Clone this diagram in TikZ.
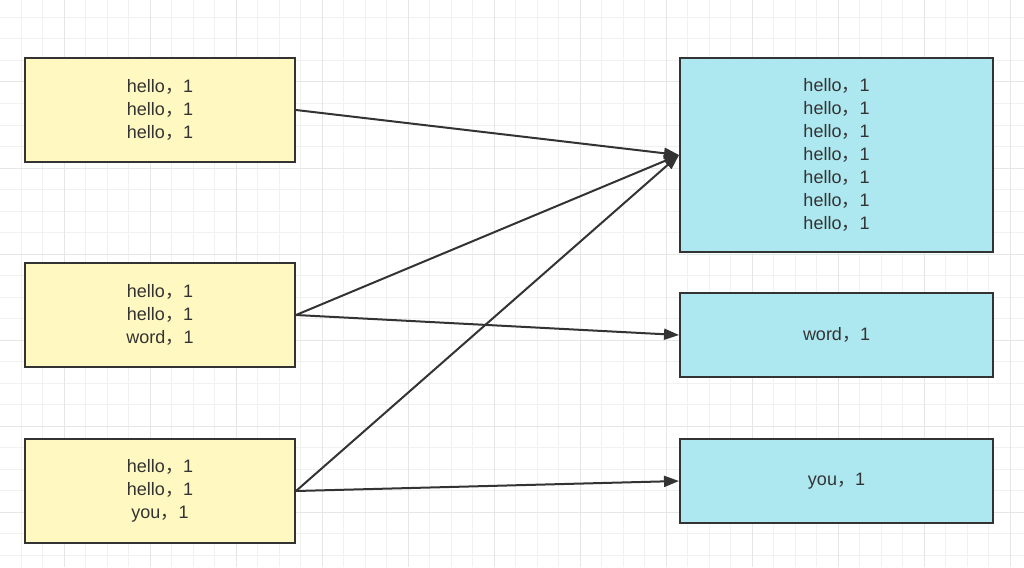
\documentclass[tikz,border=0pt]{standalone}
\usepackage{fontspec}
\setmainfont{Liberation Sans}
\newfontfamily\cjkfont{Noto Sans CJK SC}
\newcommand{\fwc}{{\cjkfont ，}}
\usetikzlibrary{arrows.meta}
\definecolor{gridminor}{HTML}{F1F1F1}
\definecolor{gridmajor}{HTML}{E6E6E6}
\definecolor{boxyellow}{HTML}{FFF8C0}
\definecolor{boxblue}{HTML}{ADE7EF}
\definecolor{ink}{HTML}{333333}
\tikzset{
  box/.style={draw=ink, line width=2pt, align=center, text=ink, inner sep=0pt,
    font=\fontsize{18}{23}\selectfont},
  leftbox/.style={box, fill=boxyellow, minimum width=270pt, minimum height=104pt},
  rightbox/.style={box, fill=boxblue, minimum width=313pt},
  link/.style={draw=ink, line width=2pt, -{Triangle[length=15pt,width=11pt]}}
}
\begin{document}
\begin{tikzpicture}[x=1pt,y=-1pt]
\useasboundingbox (0,0) rectangle (1024,567);
\fill[white] (0,0) rectangle (1024,567);
\foreach \i in {-3,...,45} {
  \draw[gridminor, line width=1pt] ({64+21.5*\i},0) -- ({64+21.5*\i},567);
}
\foreach \j in {-4,...,23} {
  \draw[gridminor, line width=1pt] (0,{82+21.5*\j}) -- (1024,{82+21.5*\j});
}
\foreach \i in {-1,...,11} {
  \draw[gridmajor, line width=1pt] ({64+86*\i},0) -- ({64+86*\i},567);
}
\foreach \j in {-1,...,6} {
  \draw[gridmajor, line width=1pt] (0,{82+86*\j}) -- (1024,{82+86*\j});
}
\node[leftbox] (L1) at (160,110) {hello\fwc 1\\hello\fwc 1\\hello\fwc 1};
\node[leftbox] (L2) at (160,315) {hello\fwc 1\\hello\fwc 1\\word\fwc 1};
\node[leftbox] (L3) at (160,491) {hello\fwc 1\\hello\fwc 1\\you\fwc 1};
\node[rightbox, minimum height=194pt] (R1) at (836.5,155) {hello\fwc 1\\hello\fwc 1\\hello\fwc 1\\hello\fwc 1\\hello\fwc 1\\hello\fwc 1\\hello\fwc 1};
\node[rightbox, minimum height=84pt] (R2) at (836.5,335) {word\fwc 1};
\node[rightbox, minimum height=84pt] (R3) at (836.5,481) {you\fwc 1};
\draw[link] (L1.east) -- (R1.west);
\draw[link] (L2.east) -- (R1.west);
\draw[link] (L2.east) -- (R2.west);
\draw[link] (L3.east) -- (R1.west);
\draw[link] (L3.east) -- (R3.west);
\end{tikzpicture}
\end{document}
